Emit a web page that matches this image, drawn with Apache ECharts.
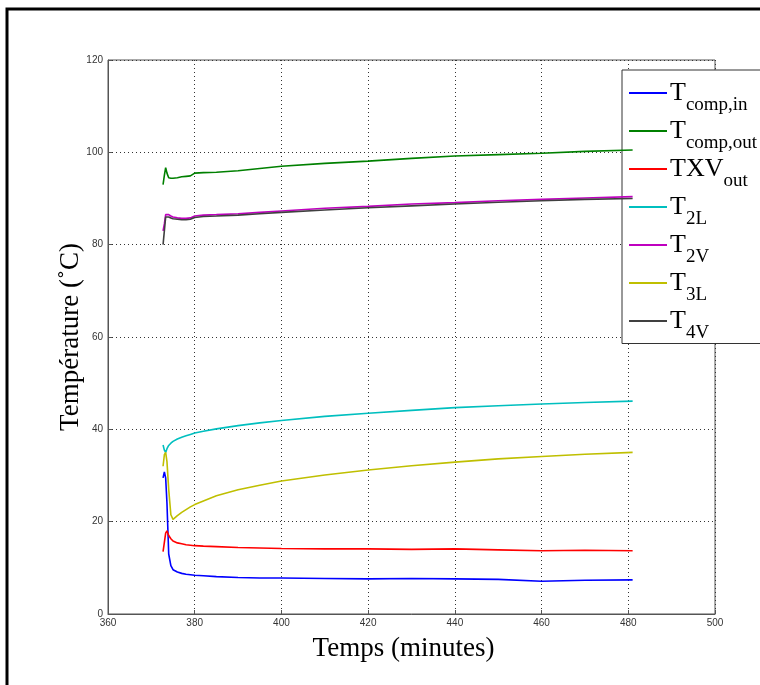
<!DOCTYPE html>
<html>
<head>
<meta charset="utf-8">
<script src="https://cdn.jsdelivr.net/npm/echarts@6/dist/echarts.min.js"></script>
<style>html,body{margin:0;padding:0;background:#fff;}#c{width:760px;height:685px;}</style>
</head>
<body>
<div id="c"></div>
<script>
const xTicks = [360, 380, 400, 420, 440, 460, 480, 500];
const yTicks = [0, 20, 40, 60, 80, 100, 120];
const times = [372.7, 373.0, 373.3, 373.6, 374.0, 374.5, 375, 376, 377, 378, 379, 380, 382, 385, 390, 395, 400, 410, 420, 430, 440, 450, 460, 470, 481];
const seriesNames = ['T_comp,in', 'T_comp,out', 'TXV_out', 'T_2L', 'T_2V', 'T_3L', 'T_4V'];
const tCompIn  = [29.5, 30.8, 29.5, 24, 13, 10.5, 9.6, 9.1, 8.8, 8.6, 8.5, 8.4, 8.3, 8.1, 7.9, 7.8, 7.8, 7.7, 7.6, 7.7, 7.6, 7.5, 7.1, 7.3, 7.4];
const tCompOut = [93, 95, 96.7, 95.5, 94.5, 94.4, 94.4, 94.5, 94.7, 94.8, 94.9, 95.5, 95.6, 95.7, 96.0, 96.5, 97.0, 97.6, 98.1, 98.7, 99.2, 99.5, 99.8, 100.2, 100.5];
const txvOut   = [13.5, 15.5, 17.5, 18.0, 17.0, 16.3, 15.8, 15.4, 15.2, 15.0, 14.9, 14.8, 14.7, 14.6, 14.4, 14.3, 14.2, 14.1, 14.1, 14.0, 14.1, 13.9, 13.7, 13.8, 13.7];
const t2L      = [36.6, 35.5, 35.0, 35.8, 36.5, 37.0, 37.4, 37.9, 38.3, 38.6, 38.9, 39.2, 39.6, 40.1, 40.8, 41.4, 41.9, 42.8, 43.5, 44.1, 44.7, 45.1, 45.5, 45.8, 46.1];
const t2V      = [83.0, 84.5, 86.5, 86.8, 86.5, 86.2, 86.0, 85.8, 85.7, 85.7, 85.8, 86.2, 86.4, 86.5, 86.7, 87.0, 87.3, 87.9, 88.3, 88.8, 89.1, 89.5, 89.8, 90.1, 90.4];
const t3L      = [32, 34.5, 35, 33, 27, 21.5, 20.5, 21.3, 22.0, 22.6, 23.2, 23.7, 24.5, 25.6, 26.9, 27.9, 28.8, 30.1, 31.2, 32.1, 32.9, 33.6, 34.1, 34.6, 35.0];
const t4V      = [80.0, 83.0, 86.0, 86.3, 86.0, 85.8, 85.6, 85.5, 85.4, 85.4, 85.5, 85.9, 86.1, 86.2, 86.4, 86.7, 87.0, 87.5, 88.0, 88.4, 88.8, 89.2, 89.5, 89.8, 90.0];
const values = [tCompIn, tCompOut, txvOut, t2L, t2V, t3L, t4V];
const colors = ['#0000ff', '#008000', '#ff0000', '#00bfbf', '#bf00bf', '#bfbf00', '#404040'];

const chart = echarts.init(document.getElementById('c'), null, {renderer: 'canvas'});
const labelFont = {fontFamily: 'Liberation Sans, Arial', fontSize: 10, color: '#333'};
const series = seriesNames.map((n, i) => ({
  name: n, type: 'line', showSymbol: false, symbol: 'none',
  data: times.map((t, k) => [t, values[i][k]]),
  lineStyle: {color: colors[i], width: 1.6}, itemStyle: {color: colors[i]},
  z: 3 + i, animation: false
}));
function legendFmt(name) {
  const parts = name.split('_');
  return '{t|' + parts[0] + '}{s|' + parts[1] + '}';
}
chart.setOption({
  animation: false,
  backgroundColor: '#fff',
  graphic: [{type: 'rect', shape: {x: 7, y: 9, width: 800, height: 700}, style: {fill: 'none', stroke: '#000', lineWidth: 3}, silent: true}],
  grid: {left: 108, top: 60, right: 45, bottom: 71, show: true, borderColor: '#555', borderWidth: 1},
  xAxis: {
    type: 'value', min: xTicks[0], max: xTicks[xTicks.length - 1], interval: 20,
    name: 'Temps (minutes)', nameLocation: 'middle', nameGap: 21, nameMoveOverlap: false,
    nameTextStyle: {fontFamily: 'Liberation Serif', fontSize: 27, color: '#000', verticalAlign: 'top', padding: [0, 16, 0, 0]},
    axisLine: {lineStyle: {color: '#555'}},
    axisTick: {inside: true, length: 4, lineStyle: {color: '#555'}},
    axisLabel: Object.assign({margin: 4}, labelFont),
    splitLine: {show: true, lineStyle: {color: '#333', type: [1, 3], width: 1}}
  },
  yAxis: {
    type: 'value', min: yTicks[0], max: yTicks[yTicks.length - 1], interval: 20,
    name: 'Température (˚C)', nameLocation: 'middle', nameGap: 24, nameRotate: 90, nameMoveOverlap: false,
    nameTextStyle: {fontFamily: 'Liberation Serif', fontSize: 27, color: '#000'},
    axisLine: {lineStyle: {color: '#555'}},
    axisTick: {inside: true, length: 4, lineStyle: {color: '#555'}},
    axisLabel: Object.assign({margin: 5}, labelFont),
    splitLine: {show: true, lineStyle: {color: '#333', type: [1, 3], width: 1}}
  },
  legend: {
    left: 622, top: 70, orient: 'vertical', align: 'left',
    backgroundColor: '#fff', borderColor: '#333', borderWidth: 1,
    padding: [10, 40, 1, 7], itemWidth: 38, itemHeight: 2, itemGap: 3.5, icon: 'rect',
    data: seriesNames,
    formatter: legendFmt,
    textStyle: {
      color: '#000',
      rich: {
        t: {fontFamily: 'Liberation Serif', fontSize: 26, color: '#000', padding: [0, 0, 0, -2]},
        s: {fontFamily: 'Liberation Serif', fontSize: 19, color: '#000', padding: [24, 0, 0, 0]}
      }
    }
  },
  series: series
});
</script>
</body>
</html>
